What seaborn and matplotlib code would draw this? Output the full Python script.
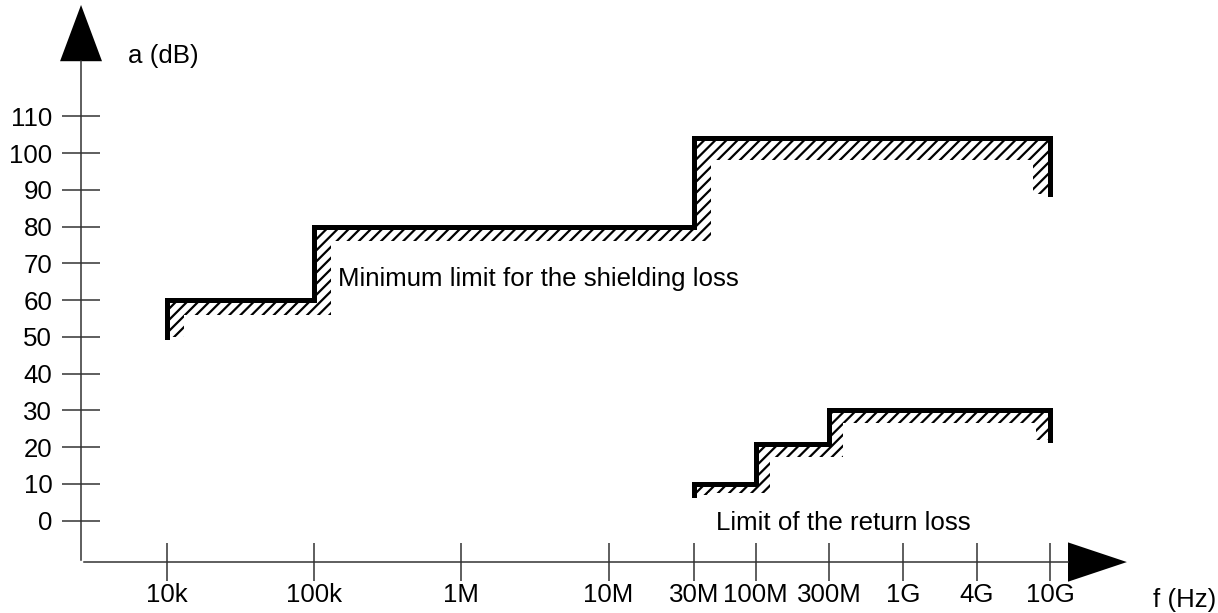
"""
Shielding loss / return loss limits (step diagram on a hand-spaced frequency axis)
"""

import numpy as np
import matplotlib
matplotlib.use('Agg')
import matplotlib.pyplot as plt
import seaborn as sns

# Frequency axis: labels and where they sit along the (non-uniform) axis
freq_labels = ['10k', '100k', '1M', '10M', '30M', '100M', '300M', '1G', '4G', '10G']
freq_pos = [0, 1, 2, 3, 3.58, 4, 4.5, 5, 5.5, 6]
y_ticks = [0, 10, 20, 30, 40, 50, 60, 70, 80, 90, 100, 110]

# Minimum limit for the shielding loss
shield_edges = ['10k', '100k', '30M', '10G']
shield_levels = [60, 80, 104]
shield_hatch_levels = [56, 76, 98]
shield_start, shield_end = 50, 89

# Limit of the return loss
ret_edges = ['30M', '100M', '300M', '10G']
ret_levels = [10, 21, 30]
ret_hatch_levels = [7.5, 17.3, 26.6]
ret_start, ret_end = 7, 22

sns.set_theme(style='white')
plt.rcParams['font.family'] = ['Liberation Sans', 'DejaVu Sans']
plt.rcParams['hatch.linewidth'] = 1.6
plt.rcParams['text.color'] = 'black'

pos = dict(zip(freq_labels, freq_pos))
FS = 18.6


def step_path(edges, levels, start, end):
    p = [pos[e] for e in edges]
    xs, ys = [p[0]], [start]
    for i, lv in enumerate(levels):
        xs += [p[i], p[i + 1]]
        ys += [lv, lv]
    xs.append(p[-1])
    ys.append(end)
    return xs, ys


def band_path(edges, levels, hatch_levels, start, end, d):
    xs, ys = step_path(edges, levels, start, end)
    p = [pos[e] for e in edges]
    # inner edge of the hatched band, walked back from the right end
    bx = [p[-1] - d, p[-1] - d]
    by = [end, hatch_levels[-1]]
    for i in range(len(levels) - 1, 0, -1):
        bx += [p[i] + d, p[i] + d]
        by += [hatch_levels[i], hatch_levels[i - 1]]
    bx += [p[0] + d, p[0] + d]
    by += [hatch_levels[0], min(start, hatch_levels[0])]
    return xs + bx, ys + by


fig = plt.figure(figsize=(12.18, 6.13), dpi=100)
ax = fig.add_axes([0, 0, 1, 1])
ax.set_xlim(-1.1345, 7.140)
ax.set_ylim(-25.1, 141.65)

# hatched bands
for edges, lv, hl, s, e, d in [
        (shield_edges, shield_levels, shield_hatch_levels, shield_start, shield_end, 0.115),
        (ret_edges, ret_levels, ret_hatch_levels, ret_start, ret_end, 0.095)]:
    hx, hy = band_path(edges, lv, hl, s, e, d)
    ax.fill(hx, hy, facecolor='none', edgecolor='black', hatch='///', linewidth=0)

# limit lines
for edges, lv, s, e in [(shield_edges, shield_levels, shield_start, shield_end),
                        (ret_edges, ret_levels, ret_start, ret_end)]:
    xs, ys = step_path(edges, lv, s, e)
    sns.lineplot(x=xs, y=ys, sort=False, estimator=None, color='black',
                 linewidth=3.6, ax=ax)
for line in ax.lines:
    line.set_solid_joinstyle('miter')
    line.set_solid_capstyle('projecting')

# axes drawn as arrows
axis_col = '#333333'
y_axis_x, x_axis_y = -0.584, -11.24
for side in ['top', 'right']:
    ax.spines[side].set_visible(False)
ax.spines['left'].set_position(('data', y_axis_x))
ax.spines['left'].set_bounds(-10.7, 125.0)
ax.spines['bottom'].set_position(('data', x_axis_y))
ax.spines['bottom'].set_bounds(-0.564, 6.121)
for side in ['left', 'bottom']:
    ax.spines[side].set_color(axis_col)
    ax.spines[side].set_linewidth(1.1)

ax.arrow(y_axis_x, 125.0, 0, 15.3, width=0, head_width=0.285, head_length=15.3,
         length_includes_head=True, color='black', linewidth=0)
ax.arrow(6.121, x_axis_y, 0.40, 0, width=0, head_width=10.7, head_length=0.40,
         length_includes_head=True, color='black', linewidth=0)

ax.set_xticks(freq_pos)
ax.set_xticklabels(freq_labels)
ax.set_yticks(y_ticks)
ax.set_yticklabels([str(v) for v in y_ticks])
ax.tick_params(axis='both', direction='inout', length=27.4, width=1.1,
               color=axis_col, labelsize=FS, labelcolor='black',
               left=True, bottom=True)
ax.tick_params(axis='y', pad=7.0)
ax.tick_params(axis='x', pad=1.5)

ax.text(-0.265, 126.4, 'a (dB)', fontsize=FS, ha='left', va='center')
ax.text(7.126, -21.6, 'f (Hz)', fontsize=FS, ha='right', va='center')
ax.text(1.162, 65.75, 'Minimum limit for the shielding loss', fontsize=FS,
        ha='left', va='center')
ax.text(3.73, -0.6, 'Limit of the return loss', fontsize=FS, ha='left', va='center')

fig.savefig('out.png', dpi=100)
